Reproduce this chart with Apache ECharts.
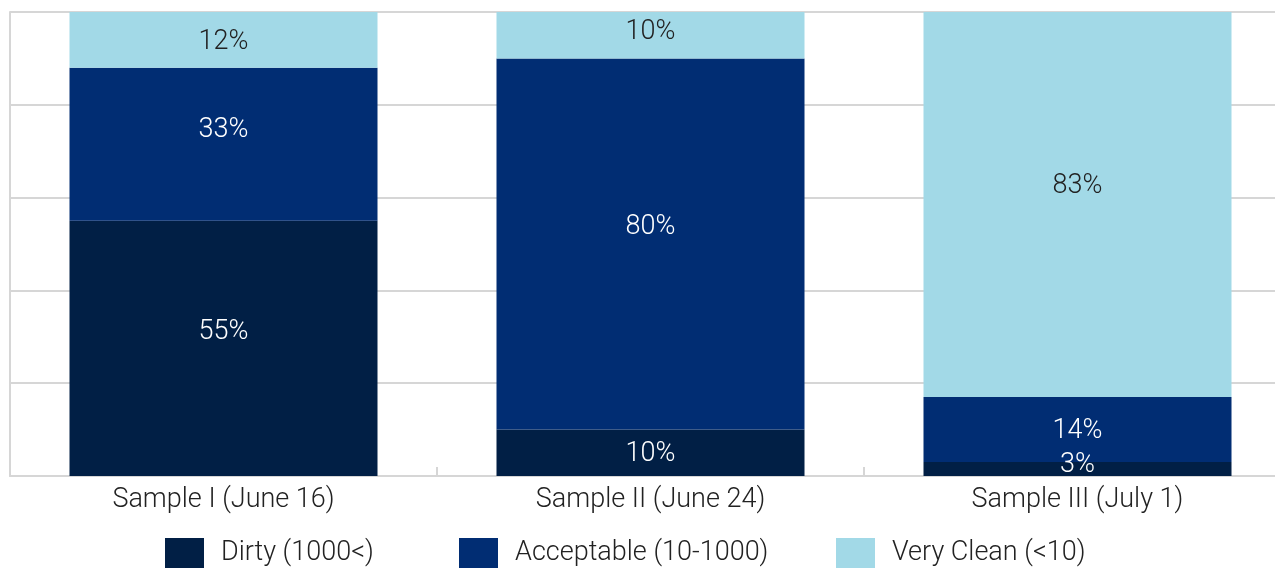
<!DOCTYPE html>
<html><head><meta charset="utf-8">
<script src="https://cdn.jsdelivr.net/npm/echarts@6/dist/echarts.min.js"></script>
<style>html,body{margin:0;padding:0;background:#fff;overflow:hidden;width:1275px;height:569px}#c{width:1291px;height:569px}</style>
</head><body><div id="c"></div>
<script>
const categories = ['Sample I (June 16)', 'Sample II (June 24)', 'Sample III (July 1)'];
const seriesNames = ['Dirty (1000<)', 'Acceptable (10-1000)', 'Very Clean (<10)'];
const dirty = [55, 10, 3];
const acceptable = [33, 80, 14];
const veryClean = [12, 10, 83];
const colors = ['#011f45', '#012d73', '#a2d9e7'];
const labelColors = ['#ffffff', '#ffffff', '#222222'];
// vertical nudges of the value labels (style only)
const labelNudge = [[-16, 1, -4], [-14, -17, 2], [2, -3, -18]];
const FONT = 'Roboto';
const W = 300;

const chart = echarts.init(document.getElementById('c'));
const data = [dirty, acceptable, veryClean];
const series = data.map((d, i) => ({
  name: seriesNames[i],
  type: 'bar',
  stack: 'total',
  barWidth: 308,
  data: d.map((v, j) => ({ value: v, label: { offset: [0, labelNudge[i][j]] } })),
  itemStyle: { color: colors[i] },
  label: {
    show: true, position: 'inside', formatter: '{c}%',
    color: labelColors[i], fontFamily: FONT, fontSize: 27, fontWeight: W
  },
  emphasis: { disabled: true }
}));
const legendLefts = [165, 459, 836];
const legends = seriesNames.map((n, i) => ({
  data: [n], left: legendLefts[i], top: 538, padding: 0,
  itemWidth: 39, itemHeight: 30, icon: 'rect',
  textStyle: { fontFamily: FONT, fontSize: 27, fontWeight: W, color: '#222', padding: [6, 0, 0, 12] }
}));
chart.setOption({
  animation: false,
  grid: { left: 10, top: 12, right: 0, bottom: 93 },
  legend: legends,
  xAxis: {
    type: 'category', data: categories,
    axisLine: { lineStyle: { color: '#d6d6d6', width: 2 } },
    axisTick: { show: true, inside: true, length: 9, lineStyle: { color: '#d6d6d6', width: 2 } },
    axisLabel: { fontFamily: FONT, fontSize: 27, fontWeight: W, color: '#222', margin: 11 }
  },
  yAxis: {
    type: 'value', min: 0, max: 100, interval: 20,
    axisLine: { show: true, lineStyle: { color: '#d6d6d6', width: 2 } },
    axisTick: { show: false },
    axisLabel: { show: false },
    splitLine: { lineStyle: { color: '#d6d6d6', width: 2 } }
  },
  series: series
});
</script></body></html>
